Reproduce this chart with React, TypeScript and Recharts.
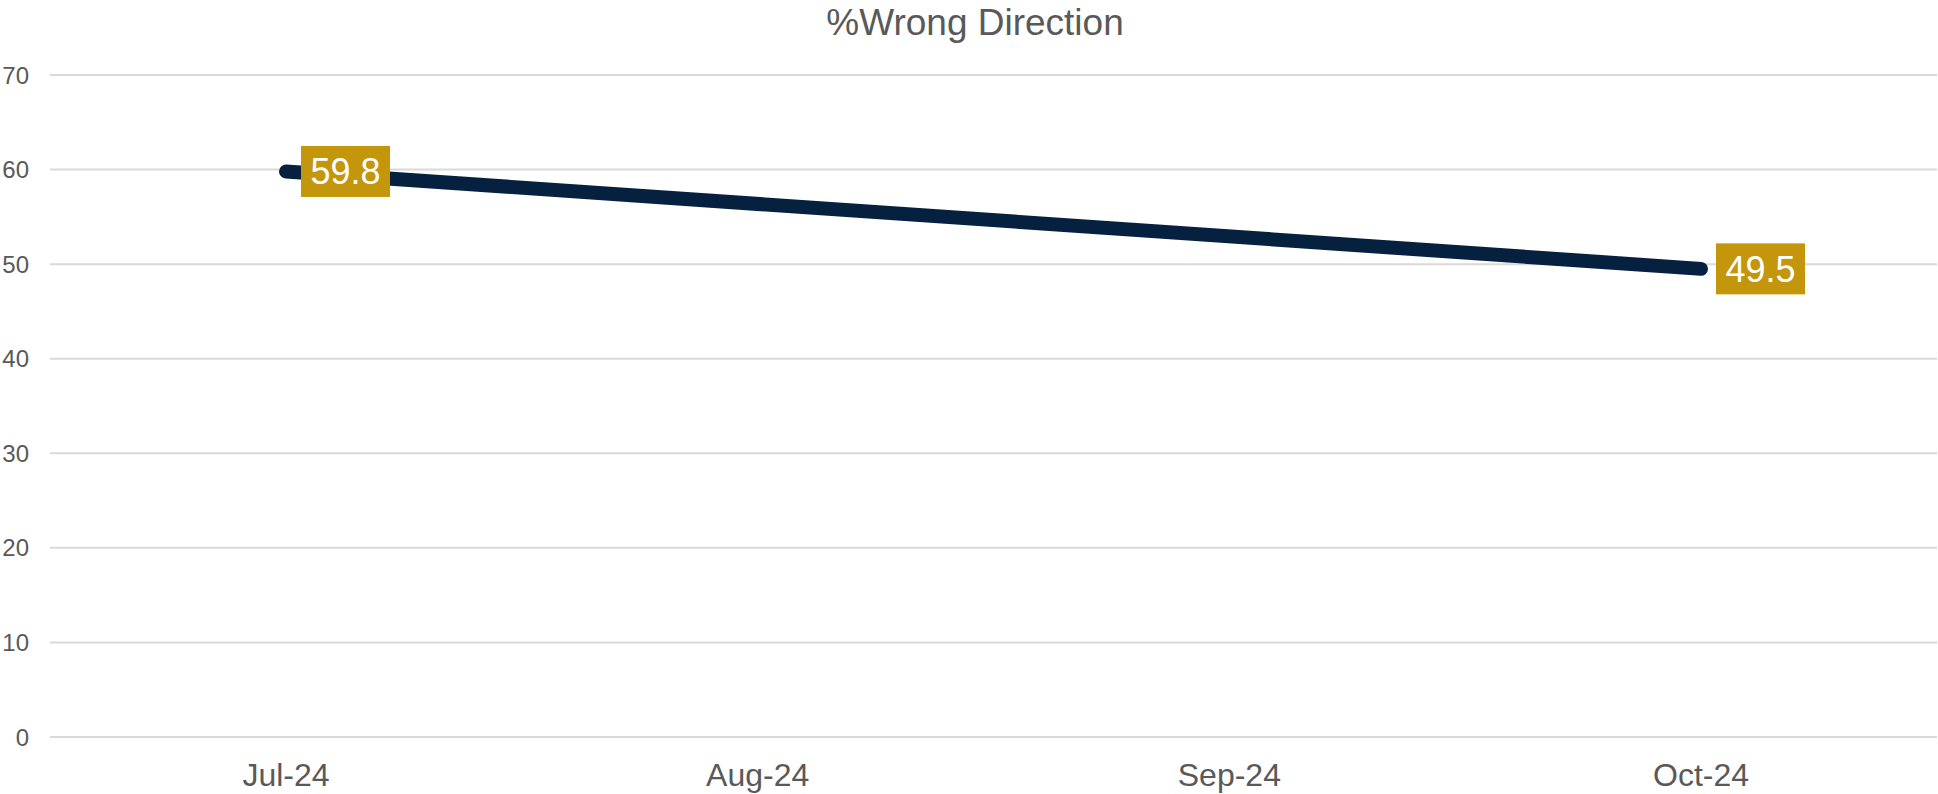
import { LineChart, Line, XAxis, YAxis, CartesianGrid, LabelList } from 'recharts';

const months = ['Jul-24', 'Aug-24', 'Sep-24', 'Oct-24'];
// Aug and Sep have no reading; the line runs straight from Jul to Oct
const wrongDirection: (number | null)[] = [59.8, null, null, 49.5];
const yTicks = [0, 10, 20, 30, 40, 50, 60, 70];

const data = months.map((m, i) => ({ month: m, value: wrongDirection[i] }));

const FONT = '"Liberation Sans", Arial, sans-serif';
const NAVY = '#06203f';
const GOLD = '#c4960c';
const GREY_TEXT = '#595959';

function ValueTag(props: Record<string, unknown>) {
  if (props.value == null) return null;
  const x = Number(props.x ?? 0);
  const y = Number(props.y ?? 0);
  const w = 89;
  const h = 51;
  return (
    <g>
      <rect x={x + 15} y={y - h / 2} width={w} height={h} fill={GOLD} />
      <text
        x={x + 15 + w / 2}
        y={y}
        dy="0.355em"
        textAnchor="middle"
        fill="#ffffff"
        fontSize={36}
        fontFamily={FONT}
      >
        {String(props.value)}
      </text>
    </g>
  );
}

export default function App() {
  return (
    <div style={{ position: 'absolute', left: 0, top: 0, width: 1938, height: 794, background: '#fff' }}>
      <div
        style={{
          position: 'absolute',
          left: 0,
          top: 4,
          width: 1950,
          textAlign: 'center',
          fontFamily: FONT,
          fontSize: 37,
          lineHeight: '37px',
          color: GREY_TEXT,
        }}
      >
        %Wrong Direction
      </div>
      <LineChart width={1938} height={794} data={data} margin={{ top: 75, right: 1, bottom: 0, left: 0 }}>
        <CartesianGrid vertical={false} stroke="#d9d9d9" strokeWidth={2} />
        <XAxis
          dataKey="month"
          height={57}
          axisLine={false}
          tickLine={false}
          padding={{ left: 236, right: 236 }}
          tickMargin={20}
          tick={{ fill: GREY_TEXT, fontSize: 32, fontFamily: FONT }}
          interval={0}
        />
        <YAxis
          width={50}
          domain={[0, 70]}
          ticks={yTicks}
          axisLine={false}
          tickLine={false}
          tickMargin={15}
          tick={{ fill: GREY_TEXT, fontSize: 24, fontFamily: FONT }}
        />
        <Line
          dataKey="value"
          stroke={NAVY}
          strokeWidth={14}
          strokeLinecap="round"
          connectNulls
          dot={false}
          activeDot={false}
          isAnimationActive={false}
        >
          <LabelList dataKey="value" content={ValueTag} />
        </Line>
      </LineChart>
    </div>
  );
}
